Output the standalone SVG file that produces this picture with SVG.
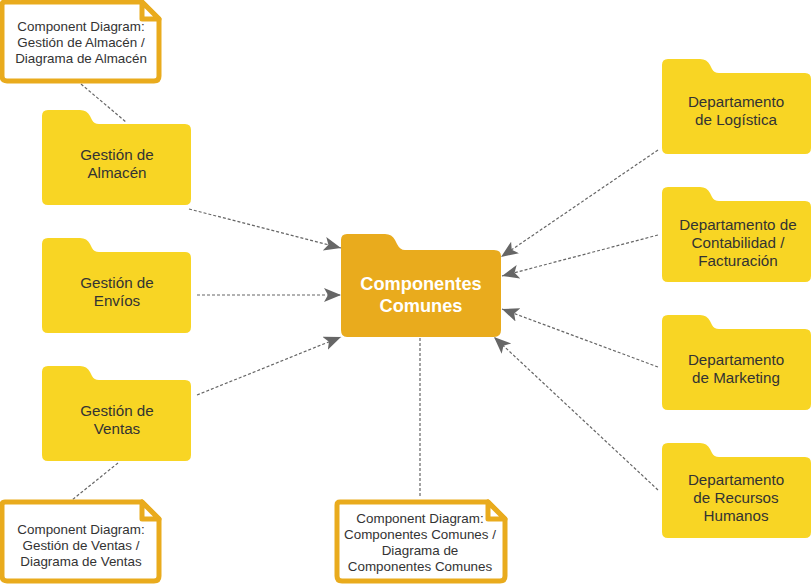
<svg xmlns="http://www.w3.org/2000/svg" width="812" height="584" viewBox="0 0 812 584">
<style>
text{font-family:"Liberation Sans",Arial,sans-serif;text-anchor:middle;fill:#333;font-size:15.2px}
.note text{font-size:13.4px}
.c{stroke:#666;stroke-width:1.2;stroke-dasharray:3 2;fill:none}
.a{stroke:#666;stroke-width:1.2;stroke-dasharray:3 2;fill:none;marker-end:url(#m)}
.f{fill:#f8d524}
.n{fill:#fff;stroke:#e9ab1d;stroke-width:5;stroke-linejoin:round}
</style>
<defs>
<marker id="m" markerUnits="userSpaceOnUse" markerWidth="20" markerHeight="16" refX="17" refY="7" orient="auto">
<path d="M0,0 L17,7 L0,14 L4,7 Z" fill="#666"/>
</marker>
<path id="fp" d="M6,0 H38 Q45,0 48,6 L50,10 Q52,14 57,14 H143 Q149,14 149,20 V89 Q149,95 143,95 H6 Q0,95 0,89 V6 Q0,0 6,0 Z"/>
</defs>
<g id="connectors">
<path class="c" d="M81,84 L126,122"/>
<path class="c" d="M118,463 L72,500"/>
<path class="c" d="M420,338 V498"/>
<path class="a" d="M189,209 L341,248"/>
<path class="a" d="M197,295 H341"/>
<path class="a" d="M197,395 L341,337"/>
<path class="a" d="M658,150 L501,257"/>
<path class="a" d="M658,235 L502,276"/>
<path class="a" d="M658,367 L502,309"/>
<path class="a" d="M658,490 L494,337"/>
</g>
<g id="note-almacen" class="note">
<path class="n" d="M5,2 H142 L159,19 V76 Q159,81 154,81 H7 Q2,81 2,76 V5 Q2,2 5,2 Z"/>
<path d="M142,2 V19 H159 Z" fill="#fff" stroke="#e9ab1d" stroke-width="5" stroke-linejoin="round"/>
<text x="81" y="31">Component Diagram:</text><text x="81" y="47">Gestión de Almacén /</text><text x="81" y="63">Diagrama de Almacén</text>
</g>
<g id="gestion-almacen"><use href="#fp" class="f" x="42" y="110"/><text x="117" y="160">Gestión de</text><text x="117" y="178">Almacén</text></g>
<g id="gestion-envios"><use href="#fp" class="f" x="42" y="238"/><text x="117" y="288">Gestión de</text><text x="117" y="306">Envíos</text></g>
<g id="gestion-ventas"><use href="#fp" class="f" x="42" y="366"/><text x="117" y="416">Gestión de</text><text x="117" y="434">Ventas</text></g>
<g id="note-ventas" class="note">
<path class="n" d="M5,502 H142 L159,519 V576 Q159,581 154,581 H7 Q2,581 2,576 V505 Q2,502 5,502 Z"/>
<path d="M142,502 V519 H159 Z" fill="#fff" stroke="#e9ab1d" stroke-width="5" stroke-linejoin="round"/>
<text x="81" y="534">Component Diagram:</text><text x="81" y="550">Gestión de Ventas /</text><text x="81" y="566">Diagrama de Ventas</text>
</g>
<g id="componentes-comunes">
<path fill="#e9ab1d" d="M347,234 H385 Q392,234 395,240 L397,244 Q400,250 405,250 H494 Q501,250 501,256 V330 Q501,337 494,337 H347 Q341,337 341,330 V240 Q341,234 347,234 Z"/>
<text x="421" y="290" style="font-size:18.2px;font-weight:bold;fill:#fff">Componentes</text><text x="421" y="312" style="font-size:18.2px;font-weight:bold;fill:#fff">Comunes</text>
</g>
<g id="note-comunes" class="note">
<path class="n" d="M340,502 H488 L505,519 V576 Q505,581 500,581 H342 Q337,581 337,576 V505 Q337,502 340,502 Z"/>
<path d="M488,502 V519 H505 Z" fill="#fff" stroke="#e9ab1d" stroke-width="5" stroke-linejoin="round"/>
<text x="420" y="523">Component Diagram:</text><text x="420" y="539">Componentes Comunes /</text><text x="420" y="555">Diagrama de</text><text x="420" y="571">Componentes Comunes</text>
</g>
<g id="depto-logistica"><use href="#fp" class="f" x="662" y="59"/><text x="736" y="107">Departamento</text><text x="736" y="125">de Logística</text></g>
<g id="depto-contabilidad"><use href="#fp" class="f" x="662" y="187"/><text x="738" y="230">Departamento de</text><text x="738" y="248">Contabilidad /</text><text x="738" y="266">Facturación</text></g>
<g id="depto-marketing"><use href="#fp" class="f" x="662" y="315"/><text x="736" y="365">Departamento</text><text x="736" y="383">de Marketing</text></g>
<g id="depto-rrhh"><use href="#fp" class="f" x="662" y="443"/><text x="736" y="485">Departamento</text><text x="736" y="503">de Recursos</text><text x="736" y="521">Humanos</text></g>
</svg>
